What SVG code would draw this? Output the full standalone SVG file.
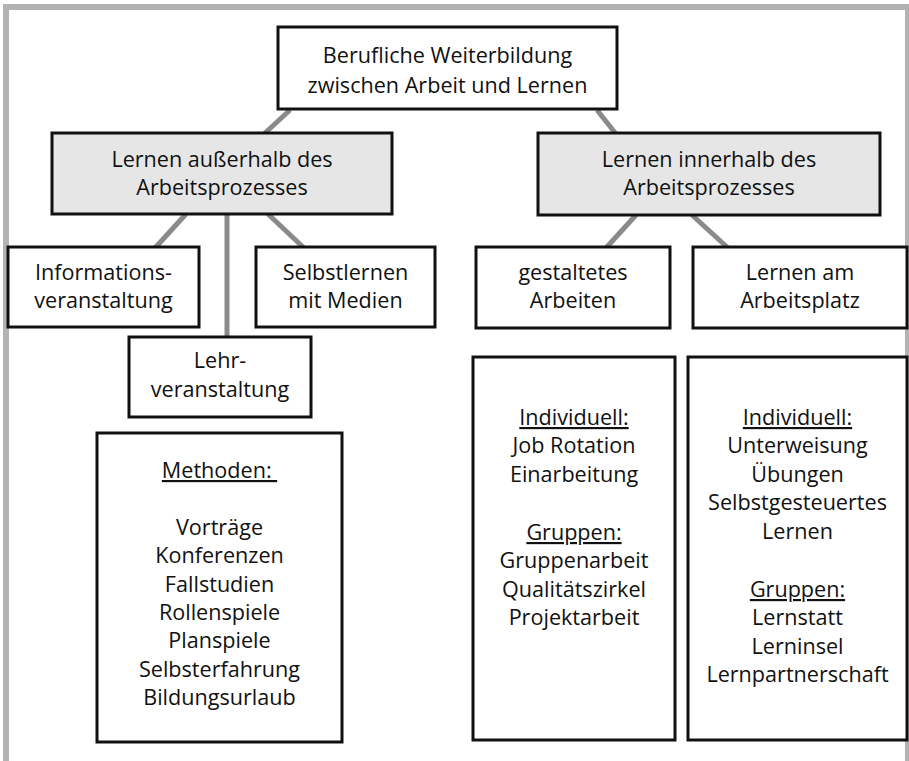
<svg xmlns="http://www.w3.org/2000/svg" width="909" height="761" viewBox="0 0 909 761">
<style>
text{font-family:"Open Sans","Noto Sans","Liberation Sans",sans-serif;font-size:21.6px;fill:#111;text-anchor:middle}
.box{fill:#fff;stroke:#111;stroke-width:3}
.gray{fill:#e6e6e6;stroke:#111;stroke-width:3}
.con{stroke:#8a8a8a;stroke-width:5;fill:none}
.u{text-decoration:underline}
</style>
<rect x="0" y="0" width="909" height="761" fill="#fff"/>
<path d="M6,761 V7 H908 V761" fill="none" stroke="#b3b3b3" stroke-width="6"/>
<g id="connectors">
<line class="con" x1="290" y1="110" x2="264" y2="134"/>
<line class="con" x1="597" y1="110" x2="616" y2="134"/>
<line class="con" x1="186" y1="214" x2="155" y2="248"/>
<line class="con" x1="227" y1="214" x2="227" y2="338"/>
<line class="con" x1="268" y1="214" x2="304" y2="248"/>
<line class="con" x1="636" y1="215" x2="606" y2="248"/>
<line class="con" x1="692" y1="215" x2="728" y2="248"/>
</g>
<g id="root">
<rect class="box" x="278" y="27" width="339" height="82"/>
<text x="447.5" y="63">Berufliche Weiterbildung</text>
<text x="447.5" y="93">zwischen Arbeit und Lernen</text>
</g>
<g id="ausserhalb">
<rect class="gray" x="52" y="133" width="340" height="81"/>
<text x="222" y="167">Lernen außerhalb des</text>
<text x="222" y="195">Arbeitsprozesses</text>
</g>
<g id="innerhalb">
<rect class="gray" x="538" y="133" width="342" height="82"/>
<text x="709" y="167">Lernen innerhalb des</text>
<text x="709" y="195">Arbeitsprozesses</text>
</g>
<g id="info">
<rect class="box" x="8" y="247" width="191" height="80"/>
<text x="103.5" y="280">Informations-</text>
<text x="103.5" y="308">veranstaltung</text>
</g>
<g id="selbst">
<rect class="box" x="256" y="247" width="179" height="80"/>
<text x="345.5" y="280">Selbstlernen</text>
<text x="345.5" y="308">mit Medien</text>
</g>
<g id="lehr">
<rect class="box" x="129" y="337" width="182" height="80"/>
<text x="220" y="368">Lehr-</text>
<text x="220" y="397">veranstaltung</text>
</g>
<g id="methoden">
<rect class="box" x="97" y="433" width="245" height="309"/>
<text x="219.5" y="478" class="u" xml:space="preserve">Methoden: </text>
<text x="219.5" y="535">Vorträge</text>
<text x="219.5" y="563">Konferenzen</text>
<text x="219.5" y="592">Fallstudien</text>
<text x="219.5" y="620">Rollenspiele</text>
<text x="219.5" y="648">Planspiele</text>
<text x="219.5" y="677">Selbsterfahrung</text>
<text x="219.5" y="705">Bildungsurlaub</text>
</g>
<g id="gestaltetes">
<rect class="box" x="476" y="247" width="194" height="81"/>
<text x="573" y="280">gestaltetes</text>
<text x="573" y="308">Arbeiten</text>
</g>
<g id="arbeitsplatz">
<rect class="box" x="693" y="247" width="214" height="81"/>
<text x="800" y="280">Lernen am</text>
<text x="800" y="308">Arbeitsplatz</text>
</g>
<g id="gestaltetes-detail">
<rect class="box" x="473" y="357" width="202" height="383"/>
<text x="574" y="425" class="u">Individuell:</text>
<text x="574" y="453">Job Rotation</text>
<text x="574" y="482">Einarbeitung</text>
<text x="574" y="540" class="u">Gruppen:</text>
<text x="574" y="568">Gruppenarbeit</text>
<text x="574" y="597">Qualitätszirkel</text>
<text x="574" y="625">Projektarbeit</text>
</g>
<g id="arbeitsplatz-detail">
<rect class="box" x="688" y="357" width="219" height="383"/>
<text x="797.5" y="425" class="u">Individuell:</text>
<text x="797.5" y="453">Unterweisung</text>
<text x="797.5" y="482">Übungen</text>
<text x="797.5" y="510">Selbstgesteuertes</text>
<text x="797.5" y="539">Lernen</text>
<text x="797.5" y="597" class="u">Gruppen:</text>
<text x="797.5" y="625">Lernstatt</text>
<text x="797.5" y="654">Lerninsel</text>
<text x="797.5" y="682">Lernpartnerschaft</text>
</g>
</svg>
